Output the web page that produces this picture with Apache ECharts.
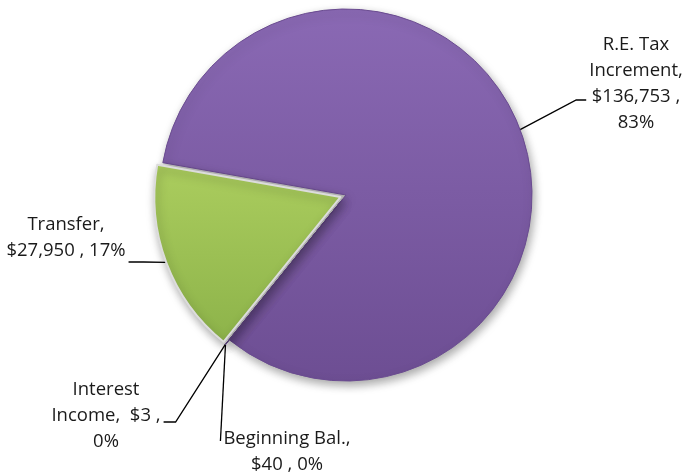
<!DOCTYPE html>
<html>
<head>
<meta charset="utf-8">
<script src="https://cdn.jsdelivr.net/npm/echarts@6/dist/echarts.min.js"></script>
<style>
html,body{margin:0;padding:0;background:#fff;}
#chart{width:684px;height:476px;}
</style>
</head>
<body>
<div id="chart"></div>
<script>
// data
var names = ['R.E. Tax Increment', 'Beginning Bal.', 'Interest Income', 'Transfer'];
var values = [136753, 40, 3, 27950];
var exploded = [false, true, true, true];

var myChart = echarts.init(document.getElementById('chart'));

// pie geometry
var CX = 346, CY = 195, R = 186, START = 170, EXPLODE = 6;
var total = values.reduce(function (a, b) { return a + b; }, 0);

// mid angle of a slice (radians, counter-clockwise from 3 o'clock)
function midAngle(i) {
  var cum = 0;
  for (var k = 0; k < i; k++) cum += values[k];
  return (START - (cum + values[i] / 2) / total * 360) * Math.PI / 180;
}
// point on the outer edge of a slice, at its mid angle
function edgePoint(i) {
  var a = midAngle(i);
  var r = R + (exploded[i] ? EXPLODE : 0);
  return [CX + r * Math.cos(a), CY - r * Math.sin(a)];
}

// label text, wrapped like the original
function labelText(p) {
  var money = '$' + p.value.toLocaleString('en-US');
  var pct = Math.round(p.percent) + '%';
  switch (p.dataIndex) {
    case 0: return 'R.E. Tax\nIncrement,\n' + money + ' ,\n' + pct;
    case 1: return p.name + ',\n' + money + ' , ' + pct;
    case 2: return 'Interest\nIncome,  ' + money + ' ,\n' + pct;
    default: return p.name + ',\n' + money + ' , ' + pct;
  }
}
// label blocks (centre), and where the leader meets them
var labelSpot = [[636, 84], [287, 452], [106, 416], [66, 238]];
var lineSide = ['left', 'left', 'right', 'right'];
var lineDy = [16, -11, 6, 24];
var lineRun = [10, 0, 12, 15];

var purple = new echarts.graphic.LinearGradient(0, 0, 0, 1, [
  {offset: 0, color: '#8a69b4'}, {offset: 1, color: '#6d4e93'}
]);
var green = new echarts.graphic.LinearGradient(0, 0, 0, 1, [
  {offset: 0, color: '#abcd5e'}, {offset: 1, color: '#8db34a'}
]);
var fills = [purple, '#7f5fa8', '#7f5fa8', green];

// slices
var sliceData = names.map(function (n, i) {
  return {
    name: n,
    value: values[i],
    selected: exploded[i],
    itemStyle: {
      color: fills[i],
      borderColor: i == 3 ? '#dcdcdc' : '#6a4b90',
      borderWidth: i == 3 ? 2 : 1
    }
  };
});
// same values again, only to carry the labels
var labelData = names.map(function (n, i) {
  return {name: n, value: values[i]};
});

var option = {
  animation: false,
  series: [{
    type: 'pie',
    center: [CX, CY],
    radius: R,
    startAngle: START,
    clockwise: true,
    selectedMode: 'multiple',
    selectedOffset: EXPLODE,
    silent: true,
    itemStyle: {
      shadowBlur: 10,
      shadowColor: 'rgba(0,0,0,0.35)',
      shadowOffsetX: 2,
      shadowOffsetY: 4
    },
    label: {show: false},
    labelLine: {show: false},
    data: sliceData
  }, {
    type: 'pie',
    center: [CX, CY],
    radius: R,
    startAngle: START,
    clockwise: true,
    silent: true,
    avoidLabelOverlap: false,
    itemStyle: {color: 'rgba(0,0,0,0)', borderWidth: 0},
    label: {
      show: true,
      position: 'outside',
      formatter: labelText,
      fontFamily: 'Open Sans',
      fontSize: 18.5,
      lineHeight: 26,
      color: '#1a1a1a'
    },
    labelLine: {
      show: true,
      lineStyle: {color: '#000', width: 1.3}
    },
    labelLayout: function (p) {
      var i = p.dataIndex, s = labelSpot[i], w = p.labelRect.width;
      var ey = s[1] + lineDy[i];
      var ex = lineSide[i] == 'left' ? s[0] - w / 2 - 3 : s[0] + w / 2 + 3;
      var kx = lineSide[i] == 'left' ? ex - lineRun[i] : ex + lineRun[i];
      return {
        x: s[0], y: s[1], align: 'center', verticalAlign: 'middle',
        labelLinePoints: [edgePoint(i), [kx, ey], [ex, ey]]
      };
    },
    data: labelData
  }]
};
myChart.setOption(option);
</script>
</body>
</html>
